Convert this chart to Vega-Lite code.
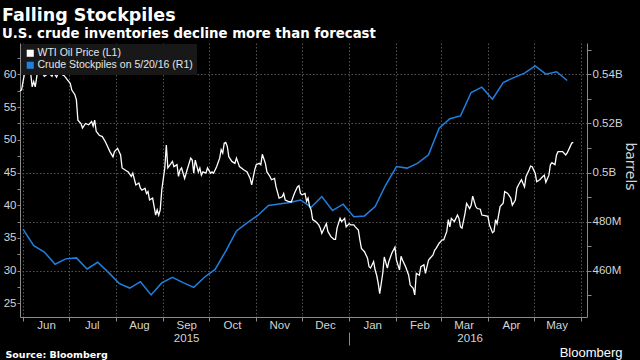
{
  "$schema": "https://vega.github.io/schema/vega-lite/v6.json",
  "width": 567,
  "height": 274,
  "autosize": {"type": "none"},
  "padding": {"left": 20, "top": 43, "right": 53, "bottom": 43},
  "background": "#000000",
  "title": {
    "text": "Falling Stockpiles",
    "subtitle": "U.S. crude inventories decline more than forecast",
    "anchor": "start",
    "frame": "group",
    "dx": -18,
    "offset": 3,
    "font": "DejaVu Sans",
    "fontSize": 17.5,
    "fontWeight": "bold",
    "color": "#ffffff",
    "subtitleFont": "DejaVu Sans",
    "subtitleFontSize": 13.3,
    "subtitleFontWeight": "bold",
    "subtitleColor": "#ffffff",
    "subtitlePadding": 2
  },
  "config": {
    "view": {"stroke": null},
    "axis": {
      "labelFont": "Liberation Sans",
      "labelFontSize": 11.5,
      "labelColor": "#d4d4d4",
      "domainColor": "#8a8a8a",
      "tickColor": "#8a8a8a",
      "gridColor": "#555555",
      "gridDash": [1.5, 2],
      "gridWidth": 1
    }
  },
  "datasets": {
    "oil": [
      {"date":"2015-05-30","price":57.5},{"date":"2015-05-31","price":57.6},{"date":"2015-06-02","price":60.2},{"date":"2015-06-03","price":60.2},{"date":"2015-06-04","price":60.9},{"date":"2015-06-06","price":60.2},{"date":"2015-06-07","price":58.1},{"date":"2015-06-08","price":58.9},{"date":"2015-06-09","price":58.1},{"date":"2015-06-11","price":61.2},{"date":"2015-06-13","price":60.4},{"date":"2015-06-15","price":59.7},{"date":"2015-06-18","price":60.2},{"date":"2015-06-20","price":59.7},{"date":"2015-06-21","price":60.3},{"date":"2015-06-23","price":59.6},{"date":"2015-06-25","price":60.7},{"date":"2015-06-27","price":59.9},{"date":"2015-06-28","price":59.8},{"date":"2015-06-30","price":59.2},
      {"date":"2015-07-02","price":58.6},{"date":"2015-07-03","price":57.6},{"date":"2015-07-05","price":56.9},{"date":"2015-07-06","price":56.1},{"date":"2015-07-07","price":53.0},{"date":"2015-07-09","price":52.5},{"date":"2015-07-10","price":51.8},{"date":"2015-07-12","price":52.5},{"date":"2015-07-14","price":52.3},{"date":"2015-07-16","price":52.8},{"date":"2015-07-17","price":52.1},{"date":"2015-07-18","price":53.0},{"date":"2015-07-19","price":51.3},{"date":"2015-07-21","price":50.7},{"date":"2015-07-23","price":50.5},{"date":"2015-07-25","price":49.7},{"date":"2015-07-26","price":49.2},{"date":"2015-07-28","price":48.2},{"date":"2015-07-30","price":47.4},{"date":"2015-07-31","price":48.2},
      {"date":"2015-08-02","price":48.7},{"date":"2015-08-04","price":47.7},{"date":"2015-08-05","price":45.7},{"date":"2015-08-07","price":45.4},{"date":"2015-08-09","price":45.1},{"date":"2015-08-11","price":44.4},{"date":"2015-08-12","price":44.9},{"date":"2015-08-14","price":43.1},{"date":"2015-08-16","price":43.4},{"date":"2015-08-17","price":42.6},{"date":"2015-08-18","price":42.3},{"date":"2015-08-20","price":42.6},{"date":"2015-08-21","price":41.8},{"date":"2015-08-22","price":42.1},{"date":"2015-08-23","price":40.8},{"date":"2015-08-25","price":41.1},{"date":"2015-08-27","price":38.5},{"date":"2015-08-28","price":39.3},{"date":"2015-08-29","price":38.5},{"date":"2015-08-30","price":39.3},{"date":"2015-08-31","price":42.3},
      {"date":"2015-09-02","price":45.7},{"date":"2015-09-03","price":49.2},{"date":"2015-09-04","price":45.7},{"date":"2015-09-07","price":46.7},{"date":"2015-09-08","price":45.9},{"date":"2015-09-10","price":46.2},{"date":"2015-09-11","price":44.4},{"date":"2015-09-12","price":45.4},{"date":"2015-09-13","price":45.7},{"date":"2015-09-15","price":44.1},{"date":"2015-09-16","price":44.9},{"date":"2015-09-17","price":45.7},{"date":"2015-09-19","price":47.2},{"date":"2015-09-20","price":46.9},{"date":"2015-09-21","price":44.9},{"date":"2015-09-22","price":46.9},{"date":"2015-09-24","price":45.1},{"date":"2015-09-25","price":45.7},{"date":"2015-09-26","price":44.6},{"date":"2015-09-27","price":45.1},{"date":"2015-09-29","price":44.9},{"date":"2015-09-30","price":45.7},
      {"date":"2015-10-02","price":44.9},{"date":"2015-10-03","price":45.1},{"date":"2015-10-04","price":44.9},{"date":"2015-10-06","price":45.9},{"date":"2015-10-08","price":47.2},{"date":"2015-10-09","price":48.5},{"date":"2015-10-10","price":48.0},{"date":"2015-10-11","price":49.5},{"date":"2015-10-12","price":49.6},{"date":"2015-10-13","price":49.0},{"date":"2015-10-14","price":47.4},{"date":"2015-10-16","price":46.7},{"date":"2015-10-18","price":46.4},{"date":"2015-10-19","price":47.2},{"date":"2015-10-21","price":45.9},{"date":"2015-10-24","price":45.4},{"date":"2015-10-26","price":45.1},{"date":"2015-10-28","price":44.1},{"date":"2015-10-29","price":43.1},{"date":"2015-10-31","price":45.4},
      {"date":"2015-11-01","price":46.2},{"date":"2015-11-03","price":46.4},{"date":"2015-11-04","price":46.2},{"date":"2015-11-05","price":47.8},{"date":"2015-11-07","price":46.4},{"date":"2015-11-08","price":45.1},{"date":"2015-11-10","price":44.4},{"date":"2015-11-11","price":43.9},{"date":"2015-11-13","price":44.1},{"date":"2015-11-14","price":42.8},{"date":"2015-11-16","price":41.1},{"date":"2015-11-18","price":41.3},{"date":"2015-11-19","price":41.8},{"date":"2015-11-20","price":40.8},{"date":"2015-11-22","price":40.6},{"date":"2015-11-24","price":40.5},{"date":"2015-11-26","price":41.8},{"date":"2015-11-28","price":42.8},{"date":"2015-11-29","price":43.0},{"date":"2015-11-30","price":41.8},
      {"date":"2015-12-01","price":41.6},{"date":"2015-12-03","price":41.8},{"date":"2015-12-04","price":40.6},{"date":"2015-12-05","price":41.1},{"date":"2015-12-06","price":39.8},{"date":"2015-12-07","price":39.3},{"date":"2015-12-08","price":37.8},{"date":"2015-12-10","price":37.5},{"date":"2015-12-12","price":37.0},{"date":"2015-12-13","price":36.5},{"date":"2015-12-14","price":35.7},{"date":"2015-12-16","price":36.7},{"date":"2015-12-17","price":37.2},{"date":"2015-12-18","price":36.0},{"date":"2015-12-20","price":35.2},{"date":"2015-12-22","price":34.8},{"date":"2015-12-23","price":34.8},{"date":"2015-12-24","price":36.5},{"date":"2015-12-26","price":38.0},{"date":"2015-12-27","price":37.5},{"date":"2015-12-29","price":38.0},{"date":"2015-12-30","price":36.7},
      {"date":"2016-01-01","price":37.2},{"date":"2016-01-02","price":37.0},{"date":"2016-01-04","price":37.0},{"date":"2016-01-05","price":36.7},{"date":"2016-01-07","price":36.2},{"date":"2016-01-08","price":34.7},{"date":"2016-01-09","price":33.4},{"date":"2016-01-11","price":32.9},{"date":"2016-01-13","price":31.9},{"date":"2016-01-14","price":30.6},{"date":"2016-01-15","price":30.4},{"date":"2016-01-17","price":31.4},{"date":"2016-01-18","price":30.1},{"date":"2016-01-19","price":29.3},{"date":"2016-01-20","price":28.1},{"date":"2016-01-21","price":26.5},{"date":"2016-01-23","price":29.6},{"date":"2016-01-24","price":32.1},{"date":"2016-01-26","price":30.4},{"date":"2016-01-27","price":31.4},{"date":"2016-01-29","price":32.7},{"date":"2016-01-31","price":33.6},
      {"date":"2016-02-01","price":31.6},{"date":"2016-02-03","price":30.1},{"date":"2016-02-04","price":32.2},{"date":"2016-02-05","price":31.6},{"date":"2016-02-07","price":30.6},{"date":"2016-02-09","price":29.3},{"date":"2016-02-10","price":27.8},{"date":"2016-02-12","price":27.3},{"date":"2016-02-13","price":26.3},{"date":"2016-02-14","price":29.6},{"date":"2016-02-16","price":29.3},{"date":"2016-02-17","price":30.6},{"date":"2016-02-19","price":30.9},{"date":"2016-02-20","price":29.6},{"date":"2016-02-22","price":31.6},{"date":"2016-02-23","price":31.9},{"date":"2016-02-25","price":32.4},{"date":"2016-02-26","price":33.1},{"date":"2016-02-27","price":33.4},{"date":"2016-02-29","price":34.2},
      {"date":"2016-03-02","price":34.7},{"date":"2016-03-03","price":34.7},{"date":"2016-03-05","price":36.0},{"date":"2016-03-06","price":37.8},{"date":"2016-03-07","price":36.7},{"date":"2016-03-08","price":38.0},{"date":"2016-03-10","price":37.5},{"date":"2016-03-12","price":38.5},{"date":"2016-03-13","price":38.0},{"date":"2016-03-14","price":36.7},{"date":"2016-03-15","price":36.5},{"date":"2016-03-17","price":38.8},{"date":"2016-03-18","price":40.3},{"date":"2016-03-20","price":39.5},{"date":"2016-03-21","price":40.0},{"date":"2016-03-22","price":41.4},{"date":"2016-03-24","price":39.8},{"date":"2016-03-25","price":39.5},{"date":"2016-03-27","price":39.4},{"date":"2016-03-28","price":38.5},{"date":"2016-03-30","price":38.4},
      {"date":"2016-04-01","price":38.3},{"date":"2016-04-02","price":37.0},{"date":"2016-04-04","price":35.8},{"date":"2016-04-05","price":36.0},{"date":"2016-04-06","price":37.8},{"date":"2016-04-07","price":37.2},{"date":"2016-04-09","price":39.8},{"date":"2016-04-11","price":40.3},{"date":"2016-04-12","price":42.1},{"date":"2016-04-14","price":41.8},{"date":"2016-04-16","price":41.1},{"date":"2016-04-17","price":40.0},{"date":"2016-04-19","price":40.8},{"date":"2016-04-20","price":42.6},{"date":"2016-04-21","price":43.1},{"date":"2016-04-23","price":43.9},{"date":"2016-04-25","price":42.8},{"date":"2016-04-26","price":44.4},{"date":"2016-04-28","price":45.4},{"date":"2016-04-29","price":46.0},{"date":"2016-04-30","price":45.9},
      {"date":"2016-05-02","price":44.9},{"date":"2016-05-03","price":43.6},{"date":"2016-05-05","price":43.9},{"date":"2016-05-07","price":44.4},{"date":"2016-05-08","price":44.6},{"date":"2016-05-09","price":43.5},{"date":"2016-05-11","price":44.6},{"date":"2016-05-12","price":46.2},{"date":"2016-05-13","price":46.5},{"date":"2016-05-15","price":46.2},{"date":"2016-05-16","price":47.7},{"date":"2016-05-17","price":48.2},{"date":"2016-05-19","price":48.2},{"date":"2016-05-20","price":48.2},{"date":"2016-05-22","price":47.7},{"date":"2016-05-23","price":48.0},{"date":"2016-05-25","price":49.0},{"date":"2016-05-26","price":49.5},{"date":"2016-05-27","price":49.6}
    ],
    "stock": [
      {"date":"2015-06-01","stock":476.9},{"date":"2015-06-08","stock":470.2},{"date":"2015-06-15","stock":467.6},{"date":"2015-06-22","stock":462.6},{"date":"2015-06-29","stock":464.8},{"date":"2015-07-06","stock":465.2},{"date":"2015-07-13","stock":460.7},{"date":"2015-07-20","stock":463.4},{"date":"2015-07-27","stock":459.3},{"date":"2015-08-03","stock":454.8},{"date":"2015-08-10","stock":452.9},{"date":"2015-08-17","stock":455.5},{"date":"2015-08-24","stock":450.1},{"date":"2015-08-31","stock":455.0},{"date":"2015-09-07","stock":457.3},{"date":"2015-09-14","stock":455.1},{"date":"2015-09-21","stock":453.2},{"date":"2015-09-28","stock":457.3},{"date":"2015-10-05","stock":460.5},{"date":"2015-10-12","stock":468.0},{"date":"2015-10-19","stock":476.2},{"date":"2015-10-26","stock":479.5},{"date":"2015-11-02","stock":482.5},{"date":"2015-11-09","stock":486.6},{"date":"2015-11-16","stock":487.2},{"date":"2015-11-23","stock":487.8},{"date":"2015-11-30","stock":488.8},{"date":"2015-12-07","stock":485.8},{"date":"2015-12-14","stock":490.2},{"date":"2015-12-21","stock":484.5},{"date":"2015-12-28","stock":487.1},{"date":"2016-01-04","stock":482.0},{"date":"2016-01-11","stock":482.3},{"date":"2016-01-18","stock":486.1},{"date":"2016-01-25","stock":495.0},{"date":"2016-02-01","stock":502.4},{"date":"2016-02-08","stock":501.8},{"date":"2016-02-15","stock":503.8},{"date":"2016-02-22","stock":507.2},{"date":"2016-02-29","stock":518.1},{"date":"2016-03-07","stock":521.9},{"date":"2016-03-14","stock":523.1},{"date":"2016-03-21","stock":532.6},{"date":"2016-03-28","stock":534.8},{"date":"2016-04-04","stock":529.9},{"date":"2016-04-11","stock":536.7},{"date":"2016-04-18","stock":538.7},{"date":"2016-04-25","stock":540.5},{"date":"2016-05-02","stock":543.5},{"date":"2016-05-09","stock":540.1},{"date":"2016-05-16","stock":541.1},{"date":"2016-05-23","stock":537.5}
    ]
  },
  "layer": [
    {
      "data": {"name": "stock"},
      "mark": {"type": "line", "strokeWidth": 1.5, "interpolate": "linear"},
      "encoding": {
        "x": {
          "field": "date", "type": "temporal",
          "scale": {"type": "utc", "domain": [{"year": 2015, "month": 5, "date": 30, "utc": true}, {"year": 2016, "month": 6, "date": 5, "utc": true}]},
          "axis": {
            "orient": "bottom",
            "offset": 15,
            "domain": false,
            "grid": false,
            "values": [{"year": 2015, "month": 9, "date": 16, "utc": true}, {"year": 2016, "month": 1, "date": 1, "utc": true}, {"year": 2016, "month": 3, "date": 20, "utc": true}],
            "labelExpr": "utcmonth(datum.value) == 0 ? '' : utcFormat(datum.value, '%Y')",
            "tickSize": 13,
            "tickOpacity": {"condition": {"test": "utcmonth(datum.value) == 0", "value": 1}, "value": 0},
            "labelBaseline": "middle",
            "labelPadding": -7,
            "labelFlush": false,
            "labelOverlap": false,
            "title": "Source: Bloomberg",
            "titleFont": "DejaVu Sans",
            "titleFontSize": 9.5,
            "titleFontWeight": "bold",
            "titleColor": "#ffffff",
            "titleAnchor": "start",
            "titleAlign": "left",
            "titleBaseline": "alphabetic",
            "titleX": -15,
            "titleY": 25
          }
        },
        "y": {
          "field": "stock", "type": "quantitative",
          "scale": {"domain": [441.1, 552.8], "nice": false, "zero": false},
          "axis": {
            "orient": "right",
            "values": [450, 460, 470, 480, 490, 500, 510, 520, 530, 540, 550],
            "labelExpr": "datum.value % 20 != 0 ? '' : (datum.value >= 500 ? format(datum.value / 1000, '.2~f') + 'B' : format(datum.value, 'd') + 'M')",
            "tickSize": 4,
            "labelPadding": 1,
            "grid": true,
            "gridOpacity": {"condition": {"test": "datum.value % 20 == 0", "value": 1}, "value": 0},
            "title": "barrels",
            "titleFont": "DejaVu Sans",
            "titleFontSize": 14,
            "titleFontWeight": "normal",
            "titleColor": "#d4d4d4",
            "titlePadding": 0,
            "titleY": 123
          }
        },
        "color": {
          "datum": "Crude Stockpiles on 5/20/16 (R1)",
          "scale": {"domain": ["WTI Oil Price (L1)", "Crude Stockpiles on 5/20/16 (R1)"], "range": ["#ffffff", "#1f80e0"]},
          "legend": {
            "orient": "top-left",
            "offset": 1,
            "title": null,
            "fillColor": "#181818",
            "padding": 4,
            "symbolType": "square",
            "symbolSize": 50,
            "labelFont": "Liberation Sans",
            "labelFontSize": 10.5,
            "labelColor": "#e6e6e6",
            "rowPadding": 1,
            "labelOffset": 2,
            "encode": {"symbols": {"update": {"fill": {"scale": "color", "field": "value"}, "fillOpacity": {"value": 1}, "strokeWidth": {"value": 0}}}}
          }
        }
      }
    },
    {
      "data": {"name": "oil"},
      "mark": {"type": "line", "strokeWidth": 1.3, "interpolate": "linear"},
      "encoding": {
        "x": {
          "field": "date", "type": "temporal",
          "axis": {
            "orient": "bottom",
            "values": [{"year": 2015, "month": 6, "date": 1, "utc": true}, {"year": 2015, "month": 7, "date": 1, "utc": true}, {"year": 2015, "month": 8, "date": 1, "utc": true}, {"year": 2015, "month": 9, "date": 1, "utc": true}, {"year": 2015, "month": 10, "date": 1, "utc": true}, {"year": 2015, "month": 11, "date": 1, "utc": true}, {"year": 2015, "month": 12, "date": 1, "utc": true}, {"year": 2016, "month": 1, "date": 1, "utc": true}, {"year": 2016, "month": 2, "date": 1, "utc": true}, {"year": 2016, "month": 3, "date": 1, "utc": true}, {"year": 2016, "month": 4, "date": 1, "utc": true}, {"year": 2016, "month": 5, "date": 1, "utc": true}, {"year": 2016, "month": 6, "date": 1, "utc": true}],
            "labelExpr": "(utcyear(datum.value) == 2016 && utcmonth(datum.value) == 5) ? '' : utcFormat(datum.value, '%b')",
            "labelOffset": 23,
            "labelFlush": false,
            "labelOverlap": false,
            "labelBound": false,
            "tickSize": 4,
            "labelPadding": -2,
            "grid": true,
            "title": "Bloomberg",
            "titleFont": "Liberation Sans",
            "titleFontSize": 13,
            "titleFontWeight": "normal",
            "titleColor": "#ffffff",
            "titleAnchor": "end",
            "titleAlign": "right",
            "titleBaseline": "alphabetic",
            "titleX": 602,
            "titleY": 39
          }
        },
        "y": {
          "field": "price", "type": "quantitative",
          "scale": {"domain": [22.92, 64.8], "nice": false, "zero": false},
          "axis": {
            "orient": "left",
            "values": [25, 27.5, 30, 32.5, 35, 37.5, 40, 42.5, 45, 47.5, 50, 52.5, 55, 57.5, 60, 62.5],
            "labelExpr": "datum.value % 5 != 0 ? '' : format(datum.value, 'd')",
            "tickSize": 3,
            "labelPadding": 1,
            "grid": false,
            "title": null
          }
        },
        "color": {"datum": "WTI Oil Price (L1)"}
      }
    }
  ],
  "resolve": {"scale": {"y": "independent"}, "axis": {"x": "independent"}}
}
